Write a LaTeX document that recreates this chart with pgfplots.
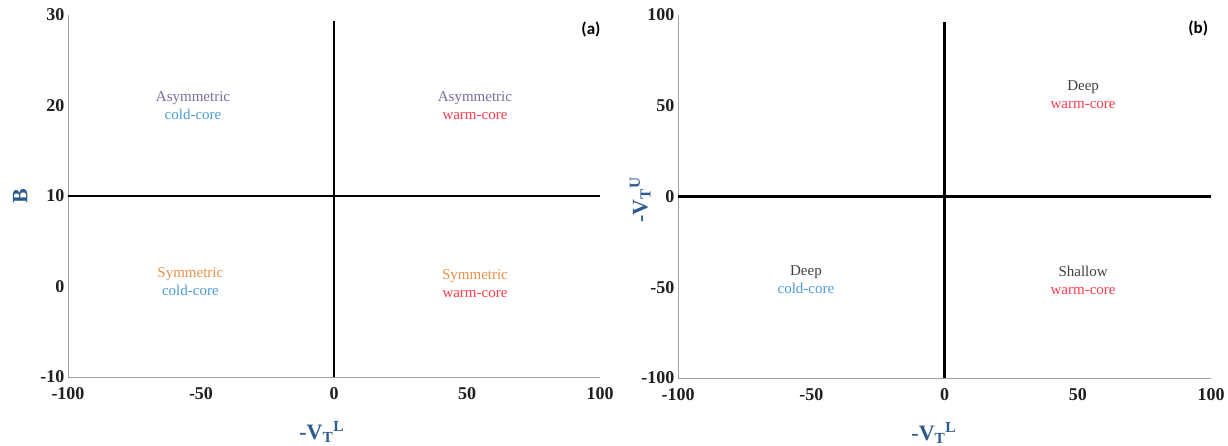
\documentclass[border=0pt]{standalone}
\usepackage{pgfplots}
\pgfplotsset{compat=1.18}
\usepackage{fontspec}
\setmainfont{Liberation Serif}
\newfontfamily\carlito{Carlito}
\definecolor{asym}{HTML}{7B6A9B}
\definecolor{cold}{HTML}{4A9BD8}
\definecolor{warm}{HTML}{FF3B4E}
\definecolor{sym}{HTML}{E9904A}
\definecolor{deep}{HTML}{404040}
\definecolor{labc}{HTML}{2F5A8F}
\definecolor{tickc}{HTML}{1E1E1E}
\definecolor{axgray}{HTML}{A0A0A0}
\tikzset{
  qlab/.style={align=center, font=\fontsize{15}{18}\selectfont},
  plab/.style={font=\carlito\bfseries\fontsize{17}{20}\selectfont},
}
\begin{document}
\begin{tikzpicture}
\path[use as bounding box] (0pt,0pt) rectangle (1228pt,445pt);
\pgfplotsset{myax/.style={
  scale only axis, width=532pt, height=362pt,
  axis lines=left, axis line style={-, draw=axgray, line width=1pt},
  major tick length=0pt,
  tick label style={font=\fontsize{18}{20}\selectfont\bfseries, text=tickc},
  xticklabel style={yshift=-7pt},
  xmin=-100, xmax=100, xtick={-100,-50,0,50,100},
  xticklabels={-100,-50,0,50,100},
  label style={font=\fontsize{22}{26}\selectfont\bfseries, text=labc},
  xlabel={-V\textsubscript{T}\textsuperscript{L}},
  clip=false,
}}
% Panel (a)
\begin{axis}[myax, at={(68pt,68pt)}, anchor=south west,
  ymin=-10, ymax=30, ytick={-10,0,10,20,30},
  yticklabels={-10,0,10,20,30},
  ylabel={B},
  xlabel style={at={(axis description cs:0.477,-0.152)}, anchor=center},
  ylabel style={at={(axis description cs:-0.09,0.5)}, anchor=center},
]
\addplot[black, line width=2.5pt] coordinates {(-100,10) (100,10)};
\addplot[black, line width=2.2pt] coordinates {(0,-10) (0,29.3)};
\node[qlab] at (axis cs:-53,20) {\textcolor{asym}{Asymmetric}\\\textcolor{cold}{cold-core}};
\node[qlab] at (axis cs:53,20) {\textcolor{asym}{Asymmetric}\\\textcolor{warm}{warm-core}};
\node[qlab] at (axis cs:-54,0.5) {\textcolor{sym}{Symmetric}\\\textcolor{cold}{cold-core}};
\node[qlab] at (axis cs:53,0.3) {\textcolor{sym}{Symmetric}\\\textcolor{warm}{warm-core}};
\node[plab] at (axis description cs:0.983,0.959) {(a)};
\end{axis}
% Panel (b)
\begin{axis}[myax, at={(678pt,67pt)}, anchor=south west, width=533pt, height=363pt,
  ymin=-100, ymax=100, ytick={-100,-50,0,50,100},
  yticklabels={-100,-50,0,50,100},
  ylabel={-V\textsubscript{T}\textsuperscript{U}},
  xlabel style={at={(axis description cs:0.48,-0.152)}, anchor=center},
  ylabel style={at={(axis description cs:-0.071,0.49)}, anchor=center},
]
\addplot[black, line width=2.5pt] coordinates {(-100,0) (100,0)};
\addplot[black, line width=2.2pt] coordinates {(0,-100) (0,96)};
\node[qlab] at (axis cs:52,56) {\textcolor{deep}{Deep}\\\textcolor{warm}{warm-core}};
\node[qlab] at (axis cs:-52,-46) {\textcolor{deep}{Deep}\\\textcolor{cold}{cold-core}};
\node[qlab] at (axis cs:52,-46) {\textcolor{deep}{Shallow}\\\textcolor{warm}{warm-core}};
\node[plab] at (axis description cs:0.976,0.964) {(b)};
\end{axis}
\end{tikzpicture}
\end{document}
